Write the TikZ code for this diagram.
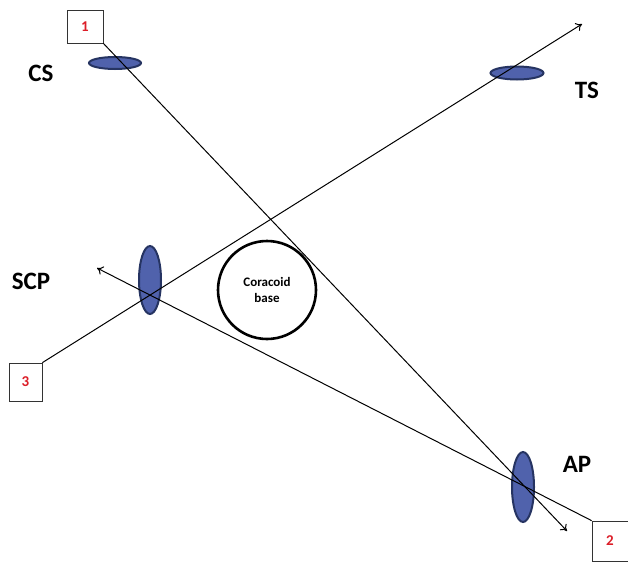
\documentclass[tikz,border=0pt]{standalone}
\usepackage{fontspec}
\setmainfont{Carlito}
\usetikzlibrary{arrows.meta,shapes.geometric}
\definecolor{ellfill}{RGB}{80,98,172}
\definecolor{elldraw}{RGB}{38,52,98}
\definecolor{numred}{RGB}{220,30,40}
\begin{document}
\begin{tikzpicture}[x=1pt,y=-1pt,
  disc/.style={ellipse,fill=ellfill,draw=elldraw,line width=2pt,inner sep=0pt},
  numbox/.style={draw=black!80,line width=0.7pt,fill=white,inner sep=0pt,text=numred,font=\bfseries\fontsize{15}{17}\selectfont},
  lab/.style={font=\bfseries\fontsize{25}{28}\selectfont,inner sep=0pt},
  ray/.style={line width=1pt,black}]
\useasboundingbox (0,0) rectangle (628,562);
\fill[white] (0,0) rectangle (628,562);
% discs
\node[disc,minimum width=52pt,minimum height=12pt] (cs) at (115,63) {};
\node[disc,minimum width=53pt,minimum height=13pt] (ts) at (517,73) {};
\node[disc,minimum width=22pt,minimum height=68pt] (scp) at (150,280) {};
\node[disc,minimum width=22pt,minimum height=70pt] (ap) at (523,487) {};
% circle
\node[circle,draw=black,line width=2.6pt,minimum size=98pt,inner sep=0pt,
  font=\bfseries\fontsize{13}{16}\selectfont,align=center] (cb) at (267,290) {Coracoid\\base};
% boxes
\node[numbox,minimum width=36pt,minimum height=33pt] (b1) at (85,26.5) {1};
\node[numbox,minimum width=33pt,minimum height=38pt] (b3) at (25.5,382) {3};
\node[numbox,minimum width=36pt,minimum height=40pt] (b2) at (610,541) {2};
% arrow ends
\coordinate (e1) at (567,531);
\coordinate (e3) at (582,24);
\coordinate (e2) at (97,268);
% rays
\draw[ray,-{To[length=6pt,width=9pt]}] (b1.south east) -- (e1);
\draw[ray,-{To[length=6pt,width=9pt]}] (b3.north east) -- (e3);
\draw[ray,-{To[length=6pt,width=9pt]}] (b2.north west) -- (e2);
% labels
\node[lab] (lcs) at (41,73) {CS};
\node[lab] (lts) at (587,90) {TS};
\node[lab] (lscp) at (31,281) {SCP};
\node[lab] (lap) at (577,464) {AP};
\end{tikzpicture}
\end{document}
